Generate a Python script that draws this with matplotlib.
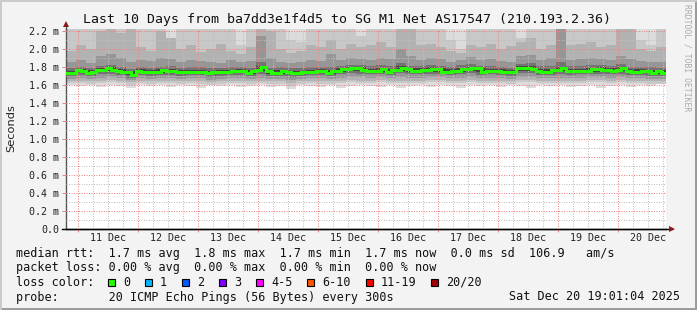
import matplotlib
matplotlib.use("Agg")
import matplotlib.pyplot as plt
import matplotlib.dates as mdates
from matplotlib.patches import Rectangle
from matplotlib.ticker import MultipleLocator, FuncFormatter
from datetime import datetime, timedelta

# ---------------- data ----------------
title = "Last 10 Days from ba7dd3e1f4d5 to SG M1 Net AS17547 (210.193.2.36)"
start = datetime(2025, 12, 10, 19, 1, 4)
end = datetime(2025, 12, 20, 19, 1, 4)
median_step_h = 2
smoke_step_h = 4

# median rtt (ms), one value per 2 hours
median_ms = [
    1.737, 1.737, 1.767, 1.756, 1.737, 1.748, 1.767, 1.767, 1.785, 1.767,
    1.759, 1.748, 1.748, 1.711, 1.759, 1.748, 1.748, 1.741, 1.741, 1.767,
    1.759, 1.759, 1.741, 1.741, 1.748, 1.748, 1.748, 1.748, 1.730, 1.741,
    1.741, 1.741, 1.741, 1.756, 1.756, 1.756, 1.730, 1.756, 1.767, 1.796,
    1.756, 1.730, 1.730, 1.756, 1.748, 1.730, 1.730, 1.748, 1.748, 1.748,
    1.756, 1.756, 1.730, 1.759, 1.759, 1.774, 1.774, 1.785, 1.785, 1.767,
    1.759, 1.759, 1.759, 1.774, 1.748, 1.767, 1.767, 1.793, 1.774, 1.759,
    1.759, 1.767, 1.767, 1.774, 1.774, 1.748, 1.748, 1.759, 1.759, 1.778,
    1.778, 1.785, 1.785, 1.748, 1.759, 1.759, 1.759, 1.748, 1.748, 1.741,
    1.785, 1.785, 1.793, 1.778, 1.759, 1.748, 1.748, 1.767, 1.767, 1.785,
    1.756, 1.756, 1.756, 1.759, 1.759, 1.774, 1.774, 1.767, 1.767, 1.759,
    1.767, 1.793, 1.759, 1.748, 1.748, 1.756, 1.756, 1.737, 1.756, 1.730,
]

# smoke bounds (ms), one value per 4 hours; outer band reaches above the chart top
smoke_lo1 = [
    1.60, 1.59, 1.60, 1.58, 1.60, 1.59, 1.57, 1.60, 1.59, 1.60,
    1.58, 1.60, 1.59, 1.57, 1.60, 1.59, 1.60, 1.58, 1.59, 1.60,
    1.58, 1.59, 1.56, 1.60, 1.59, 1.58, 1.60, 1.57, 1.59, 1.60,
    1.59, 1.58, 1.60, 1.57, 1.59, 1.60, 1.58, 1.60, 1.59, 1.57,
    1.60, 1.59, 1.60, 1.58, 1.60, 1.59, 1.57, 1.60, 1.59, 1.60,
    1.58, 1.59, 1.60, 1.57, 1.59, 1.60, 1.58, 1.60, 1.59, 1.61,
]
smoke_lo2 = [
    1.62, 1.62, 1.61, 1.62, 1.63, 1.62, 1.60, 1.62, 1.61, 1.62,
    1.62, 1.61, 1.62, 1.61, 1.60, 1.61, 1.62, 1.62, 1.61, 1.62,
    1.61, 1.61, 1.59, 1.61, 1.62, 1.61, 1.61, 1.62, 1.63, 1.62,
    1.62, 1.63, 1.62, 1.62, 1.62, 1.62, 1.63, 1.63, 1.62, 1.62,
    1.63, 1.62, 1.62, 1.62, 1.61, 1.63, 1.63, 1.62, 1.62, 1.62,
    1.62, 1.62, 1.63, 1.63, 1.62, 1.63, 1.62, 1.62, 1.61, 1.61,
]
smoke_hi2 = [
    2.30, 2.30, 2.30, 2.30, 2.30, 2.30, 2.30, 2.30, 2.30, 2.30,
    2.12, 2.30, 2.30, 2.30, 2.30, 2.30, 2.30, 2.05, 2.30, 2.30,
    2.30, 2.30, 2.10, 2.08, 2.30, 2.30, 2.30, 2.30, 2.30, 2.15,
    2.30, 2.30, 2.30, 2.30, 2.30, 2.30, 2.30, 2.30, 2.10, 2.00,
    2.30, 2.30, 2.30, 2.30, 2.30, 2.12, 2.30, 2.30, 2.30, 2.30,
    2.30, 2.30, 2.30, 2.30, 2.30, 2.30, 2.30, 2.10, 2.05, 2.30,
]
smoke_lo3 = [
    1.65, 1.65, 1.64, 1.65, 1.66, 1.65, 1.63, 1.65, 1.64, 1.65,
    1.65, 1.64, 1.65, 1.64, 1.63, 1.64, 1.65, 1.65, 1.64, 1.65,
    1.64, 1.64, 1.62, 1.64, 1.65, 1.64, 1.64, 1.65, 1.66, 1.65,
    1.65, 1.66, 1.65, 1.65, 1.65, 1.65, 1.66, 1.66, 1.65, 1.65,
    1.66, 1.65, 1.65, 1.65, 1.64, 1.66, 1.66, 1.65, 1.65, 1.65,
    1.65, 1.65, 1.66, 1.66, 1.65, 1.66, 1.65, 1.65, 1.64, 1.64,
]
smoke_hi3 = [
    1.98, 2.05, 2.00, 2.20, 2.25, 2.18, 2.22, 2.02, 1.98, 2.20,
    2.12, 2.00, 2.04, 1.97, 2.00, 2.06, 1.98, 1.95, 2.02, 2.30,
    2.20, 2.00, 1.96, 1.98, 2.05, 2.02, 2.10, 2.00, 2.06, 2.02,
    2.04, 2.08, 2.02, 2.25, 2.30, 2.04, 2.06, 2.02, 1.98, 1.96,
    2.05, 2.02, 2.06, 2.00, 2.03, 2.08, 2.12, 2.00, 2.05, 2.30,
    2.04, 2.06, 2.08, 2.02, 2.04, 2.30, 2.22, 2.00, 1.98, 2.02,
]
smoke_lo4 = [
    1.67, 1.68, 1.67, 1.68, 1.69, 1.68, 1.66, 1.68, 1.67, 1.68,
    1.68, 1.67, 1.68, 1.68, 1.66, 1.67, 1.68, 1.68, 1.67, 1.68,
    1.67, 1.67, 1.66, 1.67, 1.68, 1.68, 1.67, 1.68, 1.69, 1.69,
    1.68, 1.69, 1.68, 1.69, 1.68, 1.68, 1.69, 1.69, 1.68, 1.68,
    1.69, 1.68, 1.68, 1.68, 1.67, 1.69, 1.69, 1.68, 1.68, 1.68,
    1.68, 1.68, 1.69, 1.69, 1.68, 1.69, 1.68, 1.68, 1.67, 1.67,
]
smoke_hi4 = [
    1.86, 1.88, 1.85, 1.92, 1.95, 1.90, 1.86, 1.88, 1.87, 1.90,
    1.89, 1.86, 1.88, 1.87, 1.86, 1.85, 1.88, 1.86, 1.87, 2.15,
    1.90, 1.86, 1.85, 1.86, 1.88, 1.87, 1.95, 1.88, 1.90, 1.89,
    1.88, 1.90, 1.89, 2.00, 1.92, 1.88, 1.90, 1.89, 1.86, 1.88,
    1.91, 1.88, 1.89, 1.87, 1.86, 1.92, 1.93, 1.88, 1.90, 2.22,
    1.88, 1.89, 1.90, 1.89, 1.88, 1.92, 1.89, 1.87, 1.86, 1.86,
]
smoke_lo5 = [
    1.70, 1.71, 1.70, 1.72, 1.72, 1.71, 1.68, 1.71, 1.70, 1.71,
    1.71, 1.70, 1.71, 1.71, 1.69, 1.70, 1.71, 1.71, 1.70, 1.72,
    1.70, 1.70, 1.69, 1.70, 1.71, 1.71, 1.70, 1.72, 1.73, 1.72,
    1.72, 1.72, 1.71, 1.73, 1.72, 1.72, 1.72, 1.72, 1.71, 1.72,
    1.73, 1.71, 1.72, 1.71, 1.70, 1.73, 1.73, 1.71, 1.71, 1.72,
    1.71, 1.72, 1.72, 1.72, 1.72, 1.72, 1.71, 1.71, 1.70, 1.70,
]
smoke_hi5 = [
    1.79, 1.80, 1.79, 1.81, 1.82, 1.80, 1.78, 1.80, 1.79, 1.80,
    1.81, 1.79, 1.80, 1.80, 1.79, 1.79, 1.80, 1.80, 1.79, 1.86,
    1.79, 1.80, 1.79, 1.79, 1.80, 1.80, 1.80, 1.81, 1.82, 1.82,
    1.81, 1.82, 1.81, 1.84, 1.81, 1.81, 1.82, 1.81, 1.80, 1.82,
    1.83, 1.81, 1.81, 1.80, 1.79, 1.83, 1.84, 1.81, 1.81, 1.86,
    1.81, 1.81, 1.82, 1.82, 1.81, 1.83, 1.80, 1.80, 1.80, 1.79,
]
smoke_lo6 = [
    1.72, 1.74, 1.72, 1.75, 1.76, 1.73, 1.71, 1.73, 1.73, 1.73,
    1.74, 1.72, 1.73, 1.73, 1.72, 1.72, 1.73, 1.74, 1.72, 1.76,
    1.72, 1.72, 1.72, 1.72, 1.73, 1.74, 1.72, 1.75, 1.76, 1.76,
    1.74, 1.75, 1.74, 1.76, 1.75, 1.74, 1.75, 1.74, 1.73, 1.75,
    1.76, 1.75, 1.74, 1.73, 1.72, 1.76, 1.76, 1.73, 1.74, 1.76,
    1.74, 1.74, 1.75, 1.75, 1.74, 1.76, 1.73, 1.73, 1.73, 1.72,
]
smoke_hi6 = [
    1.76, 1.78, 1.77, 1.79, 1.80, 1.78, 1.76, 1.78, 1.77, 1.78,
    1.78, 1.77, 1.77, 1.77, 1.76, 1.77, 1.77, 1.78, 1.77, 1.81,
    1.77, 1.77, 1.76, 1.76, 1.77, 1.78, 1.77, 1.79, 1.80, 1.80,
    1.78, 1.79, 1.78, 1.81, 1.79, 1.79, 1.80, 1.79, 1.78, 1.79,
    1.80, 1.79, 1.78, 1.78, 1.77, 1.81, 1.81, 1.78, 1.78, 1.80,
    1.78, 1.78, 1.79, 1.80, 1.79, 1.80, 1.78, 1.78, 1.77, 1.77,
]

y_max = 2.22
loss_labels = ["0", "1", "2", "3", "4-5", "6-10", "11-19", "20/20"]
loss_colors = ["#26ff00", "#00b8ff", "#0059ff", "#7e00ff", "#ff00ff",
               "#ff5500", "#ff0000", "#a10000"]

legend_lines = [
    "median rtt:  1.7 ms avg  1.8 ms max  1.7 ms min  1.7 ms now  0.0 ms sd  106.9   am/s",
    "packet loss: 0.00 % avg  0.00 % max  0.00 % min  0.00 % now",
    "loss color:",
    "probe:       20 ICMP Echo Pings (56 Bytes) every 300s",
]
stamp = "Sat Dec 20 19:01:04 2025"

# ---------------- figure ----------------
W, H = 697, 310
BG = "#f3f3f3"
MONO = "DejaVu Sans Mono"
fig = plt.figure(figsize=(W / 100, H / 100), dpi=100, facecolor=BG)

ax_left, ax_right, ax_bottom = 66, 666, 229
ax_h = y_max * 90
ax = fig.add_axes([ax_left / W, 1 - ax_bottom / H, (ax_right - ax_left) / W, ax_h / H])
ax.set_facecolor("white")

def edges(step_h, n):
    return mdates.date2num([start + timedelta(hours=step_h * k) for k in range(n + 1)])

xs = edges(smoke_step_h, len(smoke_lo1))
xm = edges(median_step_h, len(median_ms))

def ext(v):
    return list(v) + [v[-1]]

bands = [
    (smoke_lo1, [y_max + 0.1] * len(smoke_lo1), "#dcdcdc"),
    (smoke_lo2, smoke_hi2, "#c8c8c8"),
    (smoke_lo3, smoke_hi3, "#b2b2b2"),
    (smoke_lo4, smoke_hi4, "#969696"),
    (smoke_lo5, smoke_hi5, "#737373"),
    (smoke_lo6, smoke_hi6, "#464646"),
]
for lo, hi, c in bands:
    ax.fill_between(xs, ext(lo), ext(hi), step="post", color=c, lw=0, zorder=1)

ax.step(xm, ext(median_ms), where="post", color="#26ff00", lw=2.2, zorder=4,
        solid_joinstyle="miter")

ax.set_xlim(mdates.date2num(start), mdates.date2num(end))
ax.set_ylim(0, y_max)

# grid
ax.yaxis.set_major_locator(MultipleLocator(0.2))
ax.yaxis.set_minor_locator(MultipleLocator(0.1))
ax.xaxis.set_major_locator(mdates.DayLocator())
ax.xaxis.set_minor_locator(mdates.HourLocator(byhour=[6, 12, 18]))
ax.grid(which="minor", color="#bdbdbd", lw=0.72, dashes=(1, 1.5), zorder=2)
ax.grid(which="major", color="#f08080", lw=0.72, dashes=(1, 1.5), zorder=3)
ax.set_axisbelow(False)

ax.yaxis.set_major_formatter(FuncFormatter(lambda v, p: "0.0" if abs(v) < 1e-9 else f"{v:.1f} m"))
ax.xaxis.set_major_formatter(FuncFormatter(lambda v, p: ""))
ax.tick_params(axis="y", which="major", length=3, width=0.7, color="#f08080", pad=2.0,
               labelsize=7.2, labelcolor="#222222")
ax.tick_params(axis="y", which="minor", length=0)
ax.tick_params(axis="x", which="major", length=2, width=0.7, color="#f08080", pad=1)
ax.tick_params(axis="x", which="minor", length=0)
for lab in ax.get_yticklabels():
    lab.set_family(MONO)

# day labels at noon
d = datetime(start.year, start.month, start.day) + timedelta(days=1)
while d < end:
    noon = d + timedelta(hours=12)
    if start < noon < end:
        ax.text(mdates.date2num(noon), -9 / ax_h, noon.strftime("%d %b"),
                transform=ax.get_xaxis_transform(), ha="center", va="center",
                family=MONO, fontsize=7.2, color="#222222")
    d += timedelta(days=1)

for s in ["top", "right"]:
    ax.spines[s].set_visible(False)
ax.spines["left"].set_color("#555555")
ax.spines["left"].set_linewidth(1)
ax.spines["bottom"].set_color("#000000")
ax.spines["bottom"].set_linewidth(1)

# axis arrows
ax.plot([-4 / 600, 1.01], [0, 0], transform=ax.transAxes, color="black", lw=1,
        clip_on=False, zorder=6)
ax.plot([1.01], [0], transform=ax.transAxes, marker=">", ms=5, color="#8b1a1a",
        clip_on=False, zorder=7, mew=0)
ax.plot([0, 0], [1, 1.02], transform=ax.transAxes, color="#555555", lw=1, clip_on=False)
ax.plot([0], [1.026], transform=ax.transAxes, marker="^", ms=5, color="#8b1a1a",
        clip_on=False, zorder=7, mew=0)

# y label
fig.text(11 / W, 1 - 128 / H, "Seconds", rotation=90, ha="center", va="center",
         fontsize=8.2, family="DejaVu Sans", color="#222222")

# title
fig.text(347 / W, 1 - 19 / H, title, ha="center", va="center", family=MONO,
         fontsize=9.55, color="#111111")

# watermark
fig.text(687 / W, 1 - 58 / H, "RRDTOOL / TOBI OETIKER", rotation=270, ha="center",
         va="center", family=MONO, fontsize=5.8, color="#aaaaaa")

# legend
line_y = [253, 268, 282, 297]
for txt, yy in zip(legend_lines, line_y):
    fig.text(16 / W, 1 - yy / H, txt, ha="left", va="center", family=MONO,
             fontsize=8.5, color="#111111")
fig.text(680 / W, 1 - 297 / H, stamp, ha="right", va="center", family=MONO,
         fontsize=8.45, color="#111111")

cw = 7.05
bx = 108
for lab, col in zip(loss_labels, loss_colors):
    fig.patches.append(Rectangle((bx / W, 1 - 285.5 / H), 7 / W, 7 / H,
                                 transform=fig.transFigure, facecolor=col,
                                 edgecolor="black", lw=0.8))
    fig.text((bx + 15) / W, 1 - 282 / H, lab, ha="left", va="center", family=MONO,
             fontsize=8.5, color="#111111")
    bx = bx + 15 + len(lab) * cw + 15

# frame (3D shading)
fig.patches.append(Rectangle((0, 0), 1, 2 / H, transform=fig.transFigure,
                             facecolor="#9c9c9c", lw=0))
fig.patches.append(Rectangle((1 - 2 / W, 0), 2 / W, 1, transform=fig.transFigure,
                             facecolor="#9c9c9c", lw=0))
fig.patches.append(Rectangle((0, 1 - 2 / H), 1, 2 / H, transform=fig.transFigure,
                             facecolor="#cbcbcb", lw=0))
fig.patches.append(Rectangle((0, 0), 2 / W, 1, transform=fig.transFigure,
                             facecolor="#cbcbcb", lw=0))

fig.savefig("out.png", dpi=100, facecolor=BG)
